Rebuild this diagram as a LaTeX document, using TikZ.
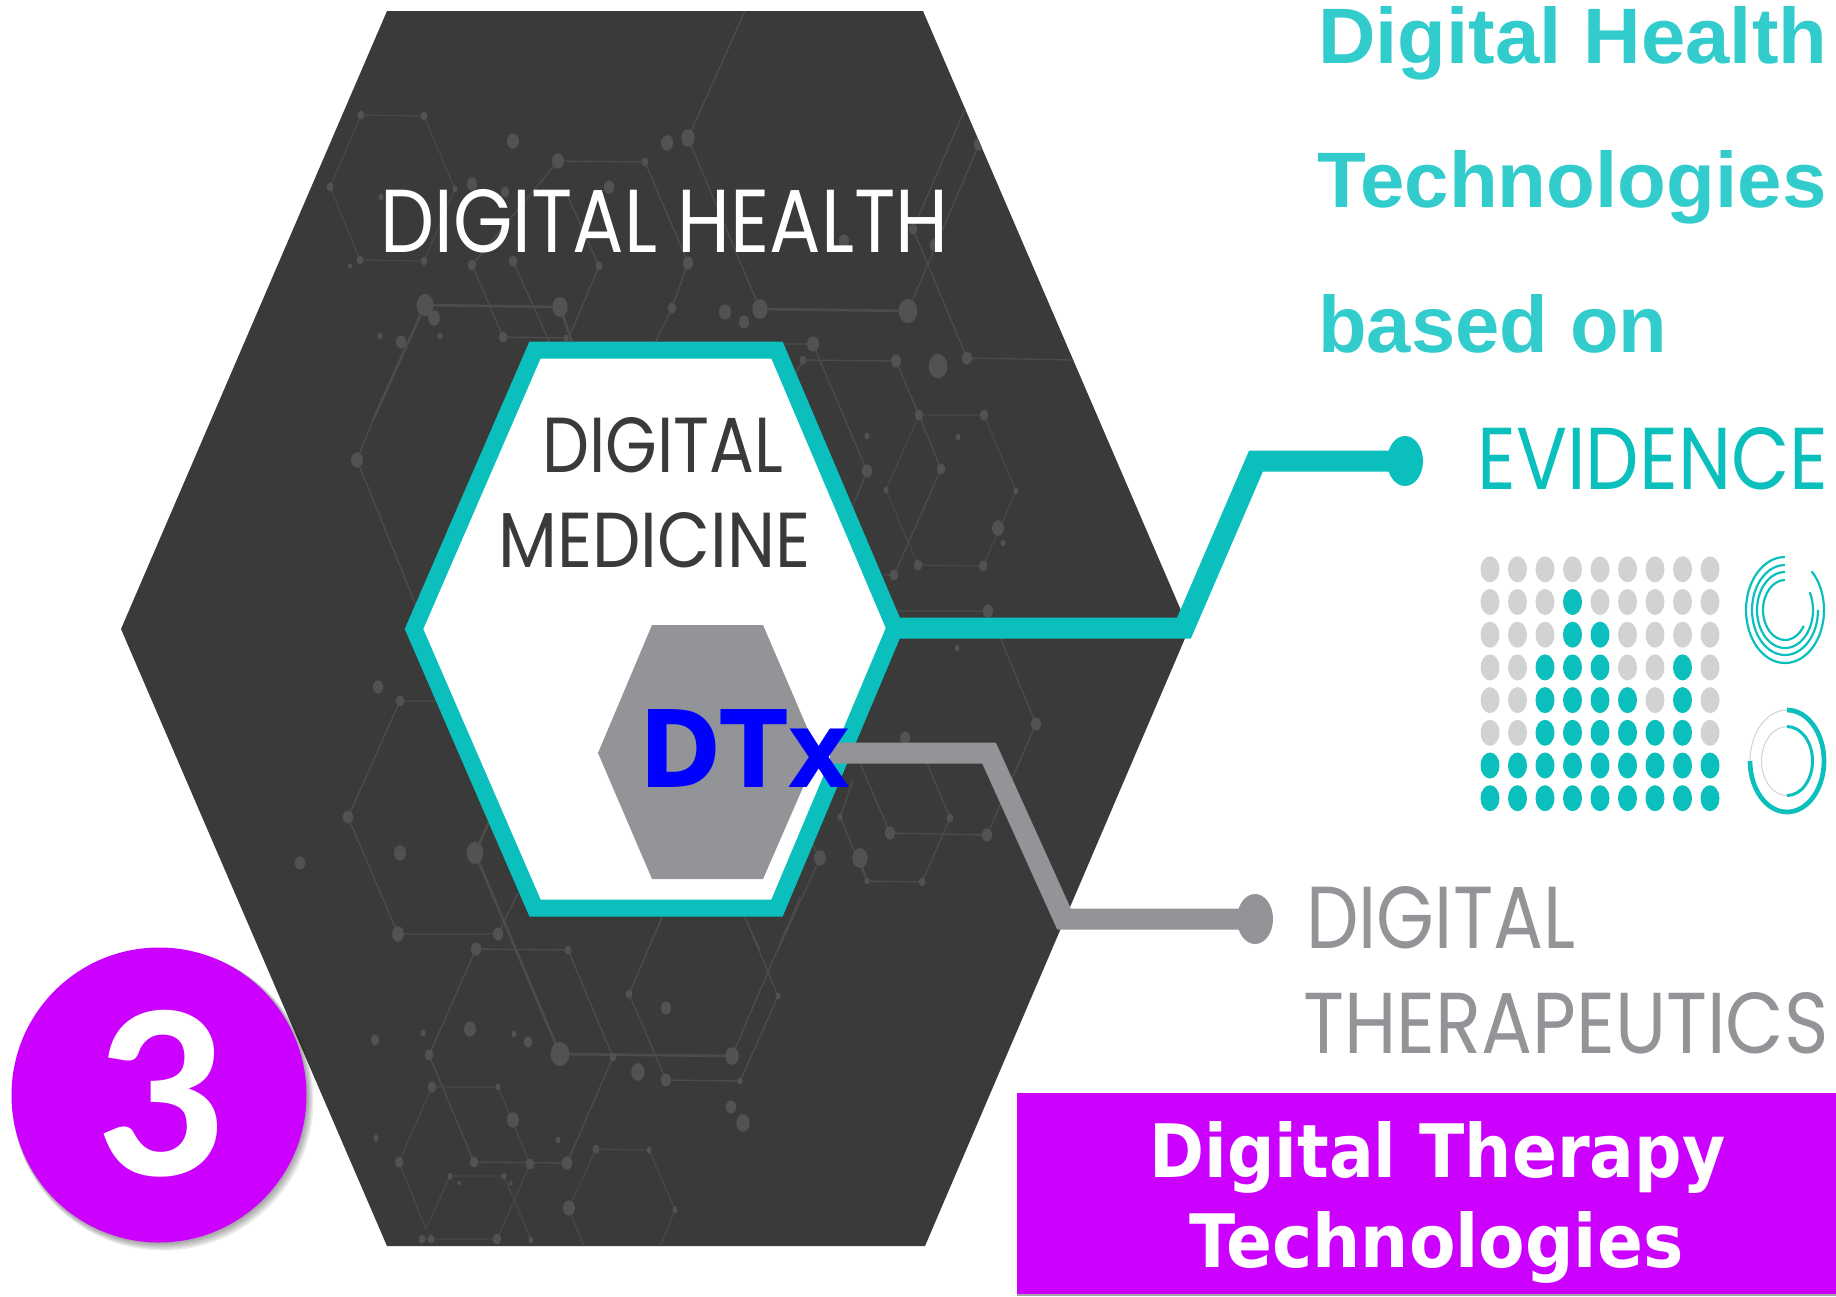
\documentclass[tikz,border=0pt]{standalone}
\usepackage{fontspec}
\usepackage{graphicx}
\usetikzlibrary{shapes.geometric}
\newfontfamily\capsfont{Poppins}
\newfontfamily\headfont{Liberation Sans}
\newfontfamily\verafont{DejaVu Sans}
\newfontfamily\badgefont{Carlito}
\definecolor{darkhex}{HTML}{3A3A3A}
\definecolor{tealline}{HTML}{0ABFBC}
\definecolor{tealhead}{HTML}{33CCCC}
\definecolor{greyline}{HTML}{929497}
\definecolor{greydot}{HTML}{D1D2D4}
\definecolor{netline}{HTML}{4C4C4C}
\definecolor{netdot}{HTML}{525252}
\definecolor{badge}{HTML}{CC00FF}
\newcommand{\fitlabel}[3]{\resizebox{#1pt}{#2pt}{#3}}
\tikzset{
  label/.style={anchor=base west,inner sep=0pt},
  endtealdot/.style={ellipse,fill=tealline,minimum width=36pt,minimum height=50pt,inner sep=0pt},
  endgreydot/.style={ellipse,fill=greyline,minimum width=36pt,minimum height=50pt,inner sep=0pt},
  net/.style={draw=netline,line width=1.3pt},
  netbold/.style={draw=netline,line width=2.6pt},
  ring/.style={draw=tealline,line width=2.2pt}
}
\begin{document}
\begin{tikzpicture}[x=1pt,y=-1pt]
   \useasboundingbox (0,0) rectangle (1836,1296);
   \fill[darkhex] (387,11) -- (923,11) -- (1189,629) -- (925,1246) -- (387,1246) -- (121,629) -- cycle;
   \begin{scope}
   \clip (387,11) -- (923,11) -- (1189,629) -- (925,1246) -- (387,1246) -- (121,629) -- cycle;
   \draw[net,draw=netline!70!darkhex] (361,115) -- (424,116) -- (455,189) -- (424,261) -- (360,260) -- (330,187) -- cycle;
   \draw[net] (558,161) -- (645,162) (558,161) -- (472,265) -- (503,337) -- (566,338) (513,261) -- (553,350) (566,192) -- (599,266) -- (566,345);
   \draw[netbold] (373,420) -- (425,305) -- (560,307) -- (573,345);
   \draw[net] (373,420) -- (357,460) -- (430,640);
   \draw[net] (745,11) -- (688,138) -- (760,309);
   \draw[netbold] (760,309) -- (908,311);
   \draw[net] (908,311) -- (979,144) (1000,100) -- (979,144) (965,109) -- (913,229) -- (967,358) -- (1074,360);
   \draw[net] (645,162) -- (688,263) -- (672,308) -- (654,345);
   \draw[net] (781,344) -- (813,344) -- (867,471) -- (852,508);
   \draw[net] (795,375) -- (803,360) -- (896,361) -- (919,415) -- (941,469) -- (894,575) -- (883,575);
   \draw[net,draw=netline!70!darkhex] (919,415) -- (984,415) -- (1016,491) -- (983,566) -- (918,565) -- (886,490) -- cycle;
   \draw[net] (897,611) -- (988,611) (1000,637) -- (1036,724) -- (987,835) -- (890,833) -- (860,763) (927,763) -- (950,818) -- (922,882) -- (867,881) -- (840,817) -- (853,780);
   \draw[net] (810,840) -- (820,858) -- (778,950) (860,858) -- (867,881) (745,918) -- (760,950) (662,918) -- (648,950);
   \draw[net] (437,701) -- (400,701) -- (348,817) -- (398,934) -- (498,934) -- (518,893);
   \draw[netbold] (489,822) -- (475,853) -- (560,1054) -- (732,1056);
   \draw[net] (732,1056) -- (800,897);
   \draw[net] (476,949) -- (568,950) -- (613,1057) -- (567,1163) -- (474,1162) -- (429,1055) -- cycle;
   \draw[net] (662,917) -- (629,994) -- (666,1080) -- (740,1081) -- (778,996) -- (745,917);
   \draw[net,draw=netline!70!darkhex] (432,1087) -- (498,1087) -- (530,1164) -- (497,1239) (432,1087) -- (399,1162) -- (426,1229) -- (450,1176) -- (504,1176) -- (531,1240) (422,1239) -- (497,1239);
   \draw[net,draw=netline!70!darkhex] (585,1250) -- (569,1208) -- (596,1149) -- (649,1150) -- (675,1210) -- (659,1250);
   \foreach \px/\py/\pr in {361/115/4,424/116/4,455/189/3,424/261/4,360/260/4,330/187/4,350/266/2.5,558/161/7,645/162/4,599/266/4,513/261/5,472/265/5,503/337/5,566/338/3,425/305/10,560/307/9,357/460/7,513/141/7,667/143/7,472/184/6,505/192/5,609/187/6,381/197/3,434/318/7,401/342/6,380/336/3,440/336/3,
      688/138/8,760/309/9,908/311/11,979/144/6,913/229/5,967/358/6,935/245/6,668/142/6,688/263/6,672/308/5,725/312/7,744/322/6,844/241/6,813/344/7,867/471/6,803/360/4,896/361/6,919/415/5,941/469/5,894/575/5,984/415/5,1016/491/3,983/566/5,918/565/5,886/490/3,938/366/11,867/436/3,958/437/3,998/528/7,1003/543/3,988/611/6,
      957/648/3,905/738/6,1036/724/6,987/835/6,890/833/6,950/818/4,922/882/4,867/881/3,840/817/3,820/858/7,860/858/9,378/687/6,400/701/5,348/817/6,398/934/7,498/934/6,475/853/10,560/1054/11,732/1056/8,400/853/7,300/863/6,476/949/6,568/950/4,613/1057/4,567/1163/6,474/1162/5,429/1055/5,638/1072/8,666/1080/6,740/1081/3,778/996/3,629/994/4,666/1008/6,470/1029/7,514/1034/3,528/1042/5,423/1033/3,375/1040/5,
      432/1087/5,498/1087/3,513/1120/7,530/1164/5,497/1239/5,399/1162/5,558/1140/3,376/1138/3,731/1107/6,743/1123/8,450/1176/3,504/1176/3,531/1240/3,511/1183/2,459/1183/2,422/1239/4,431/1239/4,596/1149/4,649/1150/3,675/1210/3,569/1208/7}
      \fill[netdot] (\px,\py) ellipse [x radius=\pr*0.85 pt,y radius=\pr*1.1 pt];
   \end{scope}
   \draw[tealline,fill=white,line width=17pt] (535,350) -- (777,350) -- (895,628) -- (777,908) -- (535,908) -- (414,629) -- cycle;
   \fill[greyline] (652,625) -- (763,625) -- (818,753) -- (763,879) -- (652,879) -- (598,753) -- cycle;
   \coordinate (medright) at (895,628);
   \coordinate (dtxright) at (830,753);
   \node[endtealdot] (evidot) at (1405,461) {};
   \node[endgreydot] (dtdot) at (1255,919) {};
   \draw[tealline,line width=21pt] (medright) -- (1184,628) -- (1256,461) -- (evidot.center);
   \draw[greyline,line width=21pt] (dtxright) -- (989,753) -- (1064,919) -- (dtdot.center);
   \node[label,text=white] (healthlbl) at (380,252) {\fitlabel{568}{63}{\capsfont DIGITAL HEALTH}};
   \node[label,text=darkhex] (digmedlbl) at (542,472) {\fitlabel{241}{55}{\capsfont DIGITAL}};
   \node[label,text=darkhex] (medlbl) at (498,567) {\fitlabel{312}{55}{\capsfont MEDICINE}};
   \node[label,text=blue] (dtx) at (639,787) {\fitlabel{212}{78}{\verafont\bfseries DTx}};
   \node[label,text=tealhead] (head1) at (1318,63) {\fitlabel{509}{57}{\headfont\bfseries Digital Health}};
   \node[label,text=tealhead] (head2) at (1317,207) {\fitlabel{509}{57}{\headfont\bfseries Technologies}};
   \node[label,text=tealhead] (head3) at (1318,352) {\fitlabel{349}{58}{\headfont\bfseries based on}};
   \node[label,text=tealline] (evidence) at (1477,489) {\fitlabel{351}{62}{\capsfont EVIDENCE}};
   \node[label,text=greyline] (dt1) at (1306,948) {\fitlabel{269}{62}{\capsfont DIGITAL}};
   \node[label,text=greyline] (dt2) at (1303,1053) {\fitlabel{525}{61}{\capsfont THERAPEUTICS}};
   \foreach \col/\first [count=\c from 0] in {1/7,2/7,3/4,4/2,5/3,6/5,7/6,8/4,9/7}
      \foreach \row in {1,...,8} {
         \ifnum\row<\first \def\dotcol{greydot}\else \def\dotcol{tealline}\fi
         \fill[\dotcol] (1490+\c*27.5,569.3+\row*32.7-32.7) ellipse [x radius=9.5pt,y radius=13pt];
      }
   \coordinate (ringa) at (1785,610);
   \coordinate (ringb) at (1787,761);
   \foreach \rx/\ry/\stopang in {39/53/407,33/45/360,28/38/388,22/30/328}
      \draw[ring] (ringa) ++(90:\rx pt and \ry pt) arc [start angle=90,end angle=\stopang,x radius=\rx pt,y radius=\ry pt];
   \draw[greydot,line width=1pt] (ringb) ellipse [x radius=37pt,y radius=51pt];
   \draw[greydot,line width=1pt] (ringb) ellipse [x radius=25.5pt,y radius=34.5pt];
   \draw[tealline,line width=4.7pt] (ringb) ++(90:37pt and 51pt) arc [start angle=90,end angle=-180,x radius=37pt,y radius=51pt];
   \draw[tealline,line width=3pt] (ringb) ++(90:25.5pt and 34.5pt) arc [start angle=90,end angle=-90,x radius=25.5pt,y radius=34.5pt];
   \fill[black!35] (1017,1294) rectangle (1836,1296);
   \node[anchor=north west,fill=badge,minimum width=819pt,minimum height=201pt,inner sep=0pt] (bar) at (1017,1093) {};
   \node[label,text=white] (bar1) at (1149,1177) {\fitlabel{576}{56}{\verafont\bfseries Digital Therapy}};
   \node[label,text=white] (bar2) at (1189,1267) {\fitlabel{494}{56}{\verafont\bfseries Technologies}};
   \foreach \s in {1,...,5}
      \fill[black,opacity=0.08] (159+\s*0.8,1095+\s) circle [radius=147.5+\s*0.6];
   \node[circle,fill=badge,minimum size=295pt,inner sep=0pt] (num) at (159,1095) {};
   \node[label,text=white] (numlbl) at (94,1175) {\fitlabel{130}{165}{\badgefont\bfseries 3}};
\end{tikzpicture}
\end{document}
